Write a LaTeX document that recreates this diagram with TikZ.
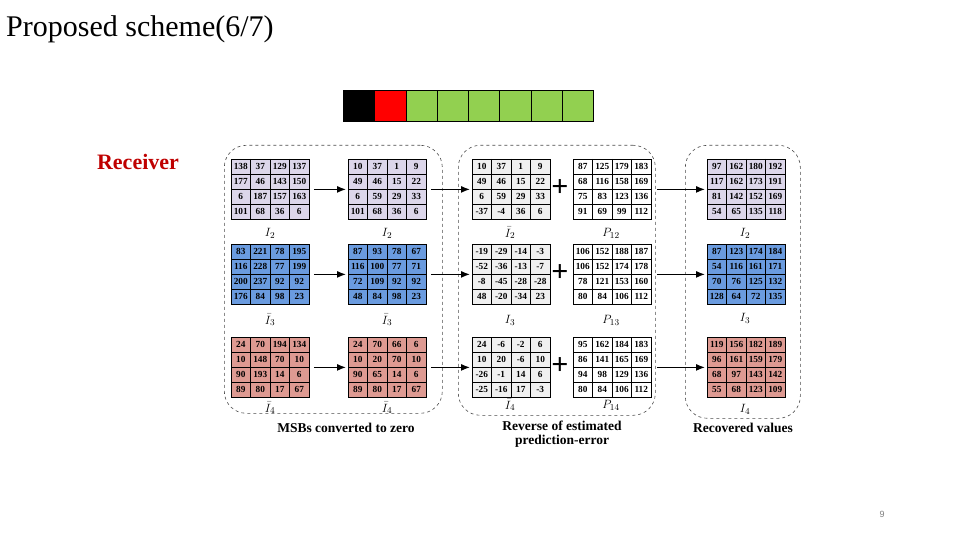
\documentclass[tikz,border=0pt]{standalone}
\usepackage{fontspec}
\setmainfont{Liberation Serif}
\setsansfont{Liberation Sans}
\usetikzlibrary{calc,arrows.meta}
\begin{document}
\begin{tikzpicture}[x=1pt,y=-1pt,
  num/.style={font=\fontsize{9.3}{10}\selectfont\bfseries,inner sep=0},
  lbl/.style={font=\fontsize{13}{14}\selectfont\itshape,inner sep=1pt},
  captxt/.style={font=\fontsize{13.5}{14}\selectfont\bfseries,align=center},
  arr/.style={-{Latex[length=9pt,width=7pt]},line width=1.2pt},
  dbox/.style={draw=black!70,dashed,rounded corners=22pt,line width=0.6pt},
  plus/.style={font=\fontsize{30}{30}\selectfont\bfseries}]
\definecolor{lav}{HTML}{DCD6EA}
\definecolor{blu}{HTML}{6A9BDF}
\definecolor{pnk}{HTML}{DE9A92}
\definecolor{gry}{HTML}{F0F0F0}
\definecolor{grn}{HTML}{92D050}
\useasboundingbox (0,0) rectangle (960,540);
\newcommand\mygrid[5]{%
  \node[draw,line width=0.8pt,fill=#4,minimum width=78pt,minimum height=60pt,anchor=north west,inner sep=0] (#1) at (#2,#3) {};
  \foreach \k in {1,2,3}{\draw[line width=0.8pt] ($(#2,#3)+(19.5*\k,0)$) -- ++(0,60);
    \draw[line width=0.8pt] ($(#2,#3)+(0,15*\k)$) -- ++(78,0);}
  \foreach \v [count=\i from 0] in {#5}{%
    \pgfmathtruncatemacro\r{int(\i/4)}\pgfmathtruncatemacro\c{mod(\i,4)}%
    \node[num] at ($(#2,#3)+(9.75+19.5*\c,7.5+15*\r)$) {\v};}}
\node[anchor=north west,font=\fontsize{30}{32}\selectfont,inner sep=0] (title) at (6,15) {Proposed scheme(6/7)};
% top bar
\foreach \cc [count=\i from 0] in {black,red,grn,grn,grn,grn,grn,grn}
  \node[draw,line width=0.8pt,fill=\cc,minimum width=31.25pt,minimum height=31pt,anchor=north west,inner sep=0] (bar\i) at (343+31.25*\i,90) {};
\node[font=\fontsize{22}{24}\selectfont\bfseries,text=red!75!black] (recv) at (138,162) {Receiver};
% dashed boxes
\node[dbox,minimum width=218pt,minimum height=268pt,anchor=north west] (boxA) at (224,145) {};
\node[dbox,minimum width=197pt,minimum height=270pt,anchor=north west] (boxB) at (458,145) {};
\node[dbox,minimum width=115pt,minimum height=273pt,anchor=north west] (boxC) at (685,145) {};
% column 1
\mygrid{a1}{231}{159}{lav}{138,37,129,137,177,46,143,150,6,187,157,163,101,68,36,6}
\mygrid{a2}{231}{244}{blu}{83,221,78,195,116,228,77,199,200,237,92,92,176,84,98,23}
\mygrid{a3}{231}{337}{pnk}{24,70,194,134,10,148,70,10,90,193,14,6,89,80,17,67}
% column 2
\mygrid{b1}{348}{159}{lav}{10,37,1,9,49,46,15,22,6,59,29,33,101,68,36,6}
\mygrid{b2}{348}{244}{blu}{87,93,78,67,116,100,77,71,72,109,92,92,48,84,98,23}
\mygrid{b3}{348}{337}{pnk}{24,70,66,6,10,20,70,10,90,65,14,6,89,80,17,67}
% column 3
\mygrid{c1}{472}{159}{gry}{10,37,1,9,49,46,15,22,6,59,29,33,-37,-4,36,6}
\mygrid{c2}{472}{244}{gry}{-19,-29,-14,-3,-52,-36,-13,-7,-8,-45,-28,-28,48,-20,-34,23}
\mygrid{c3}{472}{337}{gry}{24,-6,-2,6,10,20,-6,10,-26,-1,14,6,-25,-16,17,-3}
% column 4
\mygrid{d1}{573}{159}{white}{87,125,179,183,68,116,158,169,75,83,123,136,91,69,99,112}
\mygrid{d2}{573}{244}{white}{106,152,188,187,106,152,174,178,78,121,153,160,80,84,106,112}
\mygrid{d3}{573}{337}{white}{95,162,184,183,86,141,165,169,94,98,129,136,80,84,106,112}
% column 5
\mygrid{e1}{707}{159}{lav}{97,162,180,192,117,162,173,191,81,142,152,169,54,65,135,118}
\mygrid{e2}{707}{244}{blu}{87,123,174,184,54,116,161,171,70,76,125,132,128,64,72,135}
\mygrid{e3}{707}{337}{pnk}{119,156,182,189,96,161,159,179,68,97,143,142,55,68,123,109}
% labels
\node[lbl] (la1) at (270,233) {$I_2$};
\node[lbl] (la2) at (270,320) {$\bar I_3$};
\node[lbl] (la3) at (270,408) {$\bar I_4$};
\node[lbl] (lb1) at (387,233) {$I_2$};
\node[lbl] (lb2) at (387,320) {$\bar I_3$};
\node[lbl] (lb3) at (387,408) {$\bar I_4$};
\node[lbl] (lc1) at (510,233) {$\bar I_2$};
\node[lbl] (lc2) at (510,320) {$I_3$};
\node[lbl] (lc3) at (510,405) {$\bar I_4$};
\node[lbl] (ld1) at (611,233) {$P_{12}$};
\node[lbl] (ld2) at (611,320) {$P_{13}$};
\node[lbl] (ld3) at (611,405) {$P_{14}$};
\node[lbl] (le1) at (745,233) {$I_2$};
\node[lbl] (le2) at (745,318) {$I_3$};
\node[lbl] (le3) at (745,409) {$I_4$};
\node[plus] (p1) at (560,188) {+};
\node[plus] (p2) at (560,273) {+};
\node[plus] (p3) at (560,366) {+};
\node[captxt] (ca) at (346,428) {MSBs converted to zero};
\node[captxt] (cb) at (562,434) {Reverse of estimated\\prediction-error};
\node[captxt] (cc) at (743,428) {Recovered values};
\node[font=\sffamily\fontsize{9}{10}\selectfont,text=gray] (pg) at (882,514) {9};
% arrows
\foreach \s/\t in {a1/b1,a2/b2,a3/b3,b1/c1,b2/c2,b3/c3}
  \draw[arr] ([xshift=4pt]\s.east) -- ([xshift=-2pt]\t.west);
\foreach \s/\t in {d1/e1,d2/e2,d3/e3}
  \draw[arr] ([xshift=5pt]\s.east) -- ([xshift=-2pt]\t.west);
\end{tikzpicture}
\end{document}
